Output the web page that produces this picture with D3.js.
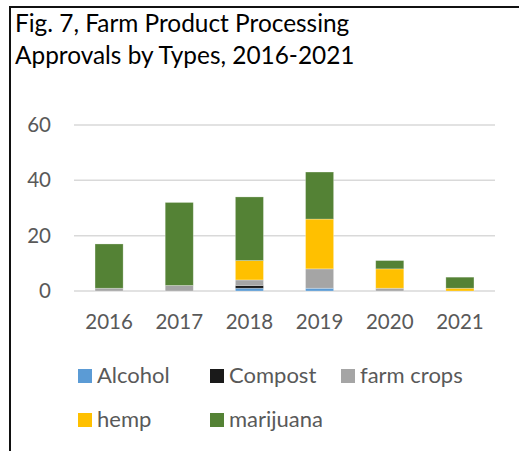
<!DOCTYPE html>
<html>
<head>
<meta charset="utf-8">
<script src="https://cdn.jsdelivr.net/npm/d3@7"></script>
<style>
  html, body { margin: 0; padding: 0; background: #fff; }
  svg { display: block; font-family: Lato, "Open Sans", sans-serif; }
</style>
</head>
<body>
<svg id="chart" width="519" height="451"></svg>
<script>
// Approvals per year, split by product type
const years = ["2016", "2017", "2018", "2019", "2020", "2021"];
const alcohol   = [0, 0, 1, 1, 0, 0];
const compost   = [0, 0, 1, 0, 0, 0];
const farmCrops = [1, 2, 2, 7, 1, 0];
const hemp      = [0, 0, 7, 18, 7, 1];
const marijuana = [16, 30, 23, 17, 3, 4];
const seriesNames = ["Alcohol", "Compost", "farm crops", "hemp", "marijuana"];
const yTicks = [0, 20, 40, 60];

const colors = ["#5B9BD5", "#1A1A1A", "#A5A5A5", "#FFC000", "#548235"];
const seriesData = [alcohol, compost, farmCrops, hemp, marijuana];

const rows = years.map((y, i) => {
  const r = { year: y };
  seriesNames.forEach((s, k) => { r[s] = seriesData[k][i]; });
  return r;
});

const svg = d3.select("#chart");

// Frame lines along the top and left edges
svg.append("line").attr("x1", 9).attr("x2", 519).attr("y1", 7).attr("y2", 7)
  .attr("stroke", "#111").attr("stroke-width", 2);
svg.append("line").attr("x1", 10).attr("x2", 10).attr("y1", 6).attr("y2", 451)
  .attr("stroke", "#111").attr("stroke-width", 2);

// Title
const title = svg.append("text").attr("x", 15).attr("fill", "#000")
  .attr("font-size", 24.4);
title.append("tspan").attr("x", 15).attr("y", 32).text("Fig. 7, Farm Product Processing");
title.append("tspan").attr("x", 15).attr("y", 64).text("Approvals by Types, 2016-2021");

const x = d3.scaleBand().domain(years).range([74, 495]).paddingInner(0.6).paddingOuter(0.3);
const y = d3.scaleLinear().domain([0, 60]).range([291, 125]);

// Gridlines
svg.append("g").selectAll("line").data(yTicks).join("line")
  .attr("x1", 74).attr("x2", 495)
  .attr("y1", d => y(d)).attr("y2", d => y(d))
  .attr("stroke", "#D9D9D9").attr("stroke-width", 1.5);

// Y axis labels
const yAxis = d3.axisLeft(y).tickValues(yTicks).tickSize(0).tickPadding(0);
const ga = svg.append("g").attr("transform", "translate(51,0)").call(yAxis);
ga.select(".domain").remove();
ga.selectAll("text").attr("font-size", 20.5).attr("fill", "#595959")
  .attr("font-family", "Lato, sans-serif");

// X axis labels
const xAxis = d3.axisBottom(x).tickSize(0).tickPadding(0);
const gx = svg.append("g").attr("transform", "translate(0,314)").call(xAxis);
gx.select(".domain").remove();
gx.selectAll("text").attr("font-size", 20.5).attr("fill", "#595959")
  .attr("font-family", "Lato, sans-serif");

// Stacked bars
const stacked = d3.stack().keys(seriesNames)(rows);
svg.append("g").selectAll("g").data(stacked).join("g")
  .attr("fill", (d, i) => colors[i])
  .selectAll("rect").data(d => d.filter(p => p[1] - p[0] > 0)).join("rect")
  .attr("x", d => x(d.data.year))
  .attr("width", x.bandwidth())
  .attr("y", d => y(d[1]))
  .attr("height", d => y(d[0]) - y(d[1]))
  .attr("stroke", "#fff").attr("stroke-opacity", 0.35).attr("stroke-width", 0.75);

// Legend
const legendPos = [
  { x: 78, y: 369 }, { x: 210, y: 369 }, { x: 341, y: 369 },
  { x: 78, y: 413 }, { x: 210, y: 413 }
];
const lg = svg.append("g").selectAll("g").data(seriesNames).join("g")
  .attr("transform", (d, i) => `translate(${legendPos[i].x},${legendPos[i].y})`);
lg.append("rect").attr("width", 14).attr("height", 14).attr("fill", (d, i) => colors[i]);
lg.append("text").attr("x", 19).attr("y", 13.5).attr("font-size", 22)
  .attr("fill", "#595959").text(d => d);
</script>
</body>
</html>
